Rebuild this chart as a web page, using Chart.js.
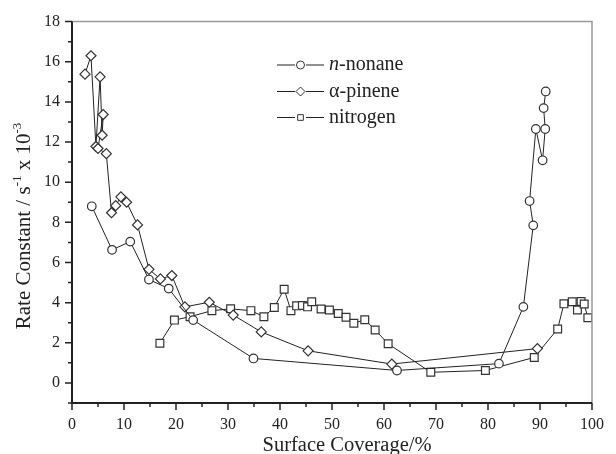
<!DOCTYPE html>
<html>
<head>
<meta charset="utf-8">
<script src="https://cdn.jsdelivr.net/npm/chart.js@4"></script>
<style>
  body { margin: 0; background: #fff; }
  #wrap { width: 616px; height: 454px; }
</style>
</head>
<body>
<div id="wrap"><canvas id="rateChart" width="616" height="454"></canvas></div>
<script>
// values
const nonaneX = [3.8, 7.7, 11.2, 14.8, 18.6, 23.3, 34.9, 62.5, 82.1, 86.8, 88.7, 88.0, 89.2, 90.5, 91.0, 90.7, 91.1];
const nonaneY = [8.80, 6.63, 7.04, 5.15, 4.70, 3.13, 1.22, 0.62, 0.96, 3.79, 7.85, 9.06, 12.65, 11.09, 12.65, 13.69, 14.52];

const pineneX = [2.5, 3.65, 4.6, 5.4, 5.8, 6.0, 5.0, 6.6, 7.6, 8.4, 9.4, 10.5, 12.6, 14.8, 17.0, 19.2, 21.7, 26.4, 31.0, 36.4, 45.4, 61.5, 89.5];
const pineneY = [15.38, 16.30, 11.78, 15.25, 12.34, 13.37, 11.68, 11.42, 8.48, 8.83, 9.27, 9.00, 7.87, 5.66, 5.18, 5.35, 3.79, 4.02, 3.38, 2.54, 1.60, 0.94, 1.71];

const nitrogenX = [16.9, 19.7, 22.7, 26.9, 30.5, 34.4, 36.9, 38.9, 40.8, 42.1, 43.2, 44.3, 45.3, 46.1, 47.9, 49.5, 51.2, 52.7, 54.2, 56.3, 58.3, 60.8, 69.0, 79.5, 88.9, 93.4, 94.6, 96.2, 97.2, 97.9, 98.5, 99.2];
const nitrogenY = [1.98, 3.13, 3.30, 3.60, 3.69, 3.60, 3.30, 3.76, 4.67, 3.60, 3.84, 3.86, 3.79, 4.04, 3.68, 3.63, 3.46, 3.27, 2.97, 3.15, 2.64, 1.95, 0.53, 0.62, 1.27, 2.69, 3.94, 4.04, 3.63, 4.06, 3.93, 3.25];

const seriesNames = ['n-nonane', 'α-pinene', 'nitrogen'];
const xTitle = 'Surface Coverage/%';
const yTitleParts = ['Rate Constant / s', '-1', ' x 10', '-3'];

const serif = '"Liberation Serif", "Times New Roman", serif';
const ink = '#222';

function toPoints(xs, ys) {
    return xs.map((x, i) => ({ x: x, y: ys[i] }));
}

function makeSet(label, xs, ys, style, radius) {
    return {
        label: label,
        data: toPoints(xs, ys),
        showLine: true,
        borderColor: ink,
        borderWidth: 1,
        pointStyle: style,
        pointRadius: radius,
        pointHoverRadius: radius,
        pointBackgroundColor: '#fff',
        pointBorderColor: '#333',
        pointBorderWidth: 1.2
    };
}

// tick marks (major labelled, minor short), frame, axis titles and legend
const decorPlugin = {
    id: 'decor',
    afterDraw(chart) {
        const ctx = chart.ctx;
        const a = chart.chartArea;
        const xs = chart.scales.x, ys = chart.scales.y;
        ctx.save();
        // gray top/right frame
        ctx.strokeStyle = '#999';
        ctx.lineWidth = 1.5;
        ctx.beginPath();
        ctx.moveTo(a.left, a.top);
        ctx.lineTo(a.right, a.top);
        ctx.lineTo(a.right, a.bottom);
        ctx.stroke();
        // black axes
        ctx.strokeStyle = ink;
        ctx.lineWidth = 2;
        ctx.beginPath();
        ctx.moveTo(a.left, a.top);
        ctx.lineTo(a.left, a.bottom);
        ctx.lineTo(a.right, a.bottom);
        ctx.stroke();
        // ticks
        ctx.lineWidth = 1.5;
        ctx.beginPath();
        xs.ticks.forEach(t => {
            const px = xs.getPixelForValue(t.value);
            const len = t.value % 10 === 0 ? 7 : 4;
            ctx.moveTo(px, a.bottom);
            ctx.lineTo(px, a.bottom + len);
        });
        ys.ticks.forEach(t => {
            const py = ys.getPixelForValue(t.value);
            const len = t.value % 2 === 0 ? 7 : 4;
            ctx.moveTo(a.left, py);
            ctx.lineTo(a.left - len, py);
        });
        ctx.stroke();

        // x title
        ctx.fillStyle = ink;
        ctx.font = '20.5px ' + serif;
        ctx.textAlign = 'center';
        ctx.textBaseline = 'alphabetic';
        ctx.fillText(xTitle, 347, 451);

        // y title with superscripts
        ctx.translate(29.5, 226);
        ctx.rotate(-Math.PI / 2);
        const big = '21px ' + serif, small = '13px ' + serif;
        let total = 0;
        yTitleParts.forEach((p, i) => {
            ctx.font = i % 2 ? small : big;
            total += ctx.measureText(p).width;
        });
        let cx = -total / 2;
        ctx.textAlign = 'left';
        yTitleParts.forEach((p, i) => {
            ctx.font = i % 2 ? small : big;
            ctx.fillText(p, cx, i % 2 ? -9 : 0);
            cx += ctx.measureText(p).width;
        });
        ctx.restore();

        // legend
        ctx.save();
        const rowY = [65, 91.5, 117.5];
        chart.data.datasets.forEach((ds, i) => {
            const y = rowY[i];
            ctx.strokeStyle = ink;
            ctx.lineWidth = 1;
            ctx.beginPath();
            ctx.moveTo(277, y);
            ctx.lineTo(295, y);
            ctx.moveTo(306, y);
            ctx.lineTo(324, y);
            ctx.stroke();
            ctx.fillStyle = '#fff';
            ctx.strokeStyle = '#333';
            Chart.helpers.drawPoint(ctx, { pointStyle: ds.pointStyle, radius: ds.pointStyle === 'rectRot' ? 4.5 : 4, borderWidth: 1 }, 300.5, y);
            ctx.fillStyle = ink;
            ctx.textBaseline = 'middle';
            ctx.textAlign = 'left';
            let tx = 329;
            let label = ds.label;
            if (label.startsWith('n-')) {
                ctx.font = 'italic 20px ' + serif;
                ctx.fillText('n', tx, y);
                tx += ctx.measureText('n').width;
                label = label.slice(1);
            }
            ctx.font = '20px ' + serif;
            ctx.fillText(label, tx, y);
        });
        ctx.restore();
    }
};

const ctx = document.getElementById('rateChart').getContext('2d');
const rateChart = new Chart(ctx, {
    type: 'scatter',
    data: {
        datasets: [
            makeSet(seriesNames[0], nonaneX, nonaneY, 'circle', 4.3),
            makeSet(seriesNames[1], pineneX, pineneY, 'rectRot', 5),
            makeSet(seriesNames[2], nitrogenX, nitrogenY, 'rect', 5.5)
        ]
    },
    options: {
        responsive: false,
        animation: false,
        layout: { padding: { top: 19, right: 13, left: 0, bottom: 0 } },
        plugins: {
            legend: { display: false },
            tooltip: { enabled: false }
        },
        scales: {
            x: {
                type: 'linear',
                min: 0,
                max: 100,
                afterFit: s => { s.height = 51; },
                border: { display: false },
                grid: { display: false, drawTicks: false },
                ticks: {
                    stepSize: 5,
                    padding: 12,
                    autoSkip: false,
                    maxRotation: 0,
                    minRotation: 0,
                    color: ink,
                    font: { family: serif, size: 16 },
                    callback: v => (v % 10 === 0 ? String(v) : '')
                }
            },
            y: {
                type: 'linear',
                min: -1,
                max: 18,
                afterFit: s => { s.width = 72; },
                border: { display: false },
                grid: { display: false, drawTicks: false },
                ticks: {
                    stepSize: 1,
                    padding: 12,
                    autoSkip: false,
                    color: ink,
                    font: { family: serif, size: 16 },
                    callback: v => (v % 2 === 0 ? String(v) : '')
                }
            }
        }
    },
    plugins: [decorPlugin]
});
</script>
</body>
</html>
